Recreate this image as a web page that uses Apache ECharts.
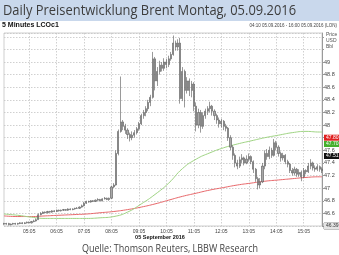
<!DOCTYPE html>
<html><head><meta charset="utf-8">
<script src="https://cdn.jsdelivr.net/npm/echarts@6/dist/echarts.min.js"></script>
<style>html,body{margin:0;padding:0;background:#fff}#c{width:339px;height:255px}</style>
</head><body><div id="c"></div>
<script>
// 5-minute categories 04:10 .. 15:45
const times = [];
for (let m = 4 * 60 + 10; m <= 15 * 60 + 45; m += 5) {
  times.push(String(Math.floor(m / 60)).padStart(2, '0') + ':' + String(m % 60).padStart(2, '0'));
}
const opens = [46.44,46.43,46.44,46.42,46.43,46.44,46.43,46.44,46.45,46.44,46.45,46.46,46.45,46.47,46.48,46.50,46.58,46.60,46.62,46.61,
46.63,46.62,46.64,46.63,46.65,46.64,46.65,46.66,46.65,46.67,46.66,46.67,46.68,46.68,46.70,46.72,46.76,46.79,46.78,46.80,
46.79,46.81,46.82,46.80,46.83,46.84,46.82,46.84,47.02,47.05,47.55,47.90,48.05,47.98,47.92,47.85,47.80,47.84,47.88,47.94,
48.02,48.15,48.20,48.26,48.36,48.44,49.05,48.70,48.85,48.95,48.90,49.00,48.96,49.05,49.12,49.30,49.24,49.30,48.42,48.85,
48.55,48.70,48.55,48.65,48.30,48.00,48.20,47.98,48.15,48.22,48.26,48.30,48.22,48.15,48.08,48.02,48.06,47.98,47.95,47.80,
47.65,47.52,47.40,47.35,47.45,47.48,47.40,47.46,47.50,47.42,47.30,47.15,47.05,47.10,47.35,47.55,47.50,47.60,47.52,47.72,
47.65,47.55,47.48,47.52,47.42,47.38,47.28,47.24,47.30,47.22,47.25,47.18,47.28,47.26,47.35,47.40,47.32,47.30,47.34,47.30];
const closes = [46.43,46.44,46.42,46.43,46.44,46.43,46.44,46.45,46.44,46.45,46.46,46.45,46.47,46.48,46.50,46.58,46.60,46.62,46.61,46.63,
46.62,46.64,46.63,46.65,46.64,46.65,46.66,46.65,46.67,46.66,46.67,46.68,46.68,46.70,46.72,46.76,46.79,46.78,46.80,46.79,
46.81,46.82,46.80,46.83,46.84,46.82,46.84,47.02,47.05,47.55,47.90,48.05,47.98,47.92,47.85,47.80,47.84,47.88,47.94,48.02,
48.15,48.20,48.26,48.36,48.44,49.05,48.70,48.85,48.95,48.90,49.00,48.96,49.05,49.12,49.30,49.24,49.30,48.42,48.85,48.55,
48.70,48.55,48.65,48.30,48.00,48.20,47.98,48.15,48.22,48.26,48.30,48.22,48.15,48.08,48.02,48.06,47.98,47.95,47.80,47.65,
47.52,47.40,47.35,47.45,47.48,47.40,47.46,47.50,47.42,47.30,47.15,47.05,47.10,47.35,47.55,47.50,47.60,47.52,47.72,47.65,
47.55,47.48,47.52,47.42,47.38,47.28,47.24,47.30,47.22,47.25,47.18,47.28,47.26,47.35,47.40,47.32,47.30,47.34,47.30,47.28];
const lows = [46.42,46.42,46.41,46.41,46.42,46.42,46.42,46.43,46.43,46.43,46.44,46.44,46.44,46.46,46.47,46.50,46.57,46.59,46.60,46.60,
46.61,46.61,46.62,46.62,46.63,46.63,46.64,46.64,46.64,46.65,46.65,46.66,46.67,46.67,46.69,46.71,46.75,46.77,46.77,46.78,
46.78,46.80,46.79,46.79,46.82,46.81,46.80,46.83,47.00,47.04,47.52,47.88,47.92,47.86,47.78,47.74,47.76,47.80,47.85,47.91,
48.00,48.10,48.14,48.22,48.30,48.42,48.55,48.62,48.80,48.85,48.86,48.90,48.92,49.02,49.10,49.18,49.18,48.34,48.38,48.28,
48.50,48.46,48.44,48.22,47.90,47.95,47.88,47.94,48.10,48.16,48.20,48.15,48.08,48.02,47.96,47.96,47.92,47.90,47.75,47.60,
47.45,47.33,47.30,47.32,47.40,47.36,47.38,47.42,47.38,47.24,47.10,46.98,47.00,47.08,47.30,47.45,47.46,47.48,47.50,47.60,
47.50,47.42,47.44,47.38,47.33,47.24,47.20,47.20,47.18,47.18,47.11,47.16,47.22,47.24,47.30,47.28,47.26,47.27,47.26,47.24];
const highs = [46.45,46.45,46.45,46.44,46.45,46.45,46.45,46.46,46.46,46.46,46.47,46.47,46.48,46.50,46.52,46.60,46.62,46.63,46.63,46.64,
46.64,46.65,46.65,46.66,46.66,46.66,46.67,46.67,46.68,46.68,46.68,46.69,46.70,46.71,46.74,46.78,46.80,46.80,46.81,46.81,
46.82,46.84,46.83,46.84,46.86,46.85,46.85,47.04,47.08,47.60,47.93,48.77,48.08,48.02,47.95,47.88,47.90,47.92,47.97,48.05,
48.18,48.24,48.30,48.40,48.48,49.16,49.08,48.92,49.02,49.00,49.06,49.05,49.10,49.16,49.42,49.34,49.36,49.38,48.92,48.88,
48.76,48.74,48.70,48.68,48.36,48.26,48.24,48.20,48.26,48.30,48.37,48.32,48.25,48.18,48.12,48.10,48.08,48.02,47.97,47.84,
47.68,47.55,47.45,47.50,47.54,47.50,47.52,47.55,47.52,47.44,47.32,47.18,47.16,47.40,47.60,47.62,47.66,47.64,47.78,47.75,
47.68,47.58,47.56,47.54,47.45,47.40,47.32,47.34,47.32,47.30,47.28,47.32,47.30,47.40,47.46,47.42,47.36,47.38,47.36,47.33];
// moving averages, read at every 6th bar
const maIndex = [0,6,12,18,24,30,36,42,48,54,60,66,72,78,84,90,96,102,108,114,120,126,132,138,139];
const maGreen = [46.59,46.57,46.54,46.52,46.52,46.52,46.52,46.53,46.55,46.62,46.75,46.90,47.08,47.31,47.46,47.56,47.64,47.70,47.75,47.80,47.84,47.88,47.90,47.89,47.89];
const maRed   = [46.56,46.55,46.55,46.56,46.57,46.58,46.59,46.61,46.63,46.66,46.70,46.75,46.81,46.87,46.92,46.97,47.01,47.05,47.08,47.11,47.13,47.15,47.17,47.18,47.18];
// price boxes on the right axis
const boxValues = [47.80, 47.70, 47.51, 46.40];
const boxColors = ['#e02020', '#44b02c', '#111111', '#e4e4e4'];
const boxText = ['#fff', '#fff', '#fff', '#333'];

const green = times.map(() => null), red = times.map(() => null);
maIndex.forEach((k, j) => { green[k] = maGreen[j]; red[k] = maRed[j]; });
const candles = opens.map((o, i) => [o, closes[i], lows[i], highs[i]]);

const ctx = document.createElement('canvas').getContext('2d');
function tw(font, s) { ctx.font = font; return ctx.measureText(s).width; }
const titleStr = 'Daily Preisentwicklung Brent Montag, 05.09.2016';
const titleFont = '15px "Open Sans"';
const titleScale = 293 / tw(titleFont, titleStr);
const srcStr = 'Quelle: Thomson Reuters, LBBW Research';
const srcFont = '10px "Open Sans"';
const srcScale = 176 / tw(srcFont, srcStr);

const hourTick = (i, v) => /:05$/.test(v);
const chart = echarts.init(document.getElementById('c'), null, { renderer: 'canvas' });
chart.setOption({
  animation: false,
  backgroundColor: '#fff',
  grid: { left: 4, right: 17, top: 33, bottom: 29, show: true, borderColor: '#cfcfcf', borderWidth: 1 },
  xAxis: {
    type: 'category', data: times, boundaryGap: false,
    axisLine: { show: false }, axisTick: { show: false },
    axisLabel: { interval: hourTick, fontSize: 5, color: '#444', margin: 3, fontFamily: 'Liberation Sans' },
    splitLine: { show: true, interval: hourTick, lineStyle: { color: '#c4c4c4', type: [1.5, 1.5], width: 0.8 } }
  },
  yAxis: {
    type: 'value', position: 'right', min: 46.4, max: 49.46, interval: 0.2, scale: true,
    axisLine: { show: true, lineStyle: { color: '#9a9a9a', width: 1 } },
    axisTick: { show: true, length: 2, lineStyle: { color: '#9a9a9a' } },
    axisLabel: { fontSize: 5.5, color: '#444', margin: 2, fontFamily: 'Liberation Sans', showMaxLabel: false,
      formatter: v => (v > 49.01 || v < 46.5) ? '' : String(+v.toFixed(1)) },
    splitLine: { show: true, lineStyle: { color: '#c4c4c4', type: [1.5, 1.5], width: 0.8 } }
  },
  series: [
    { type: 'line', data: red, connectNulls: true, smooth: true, symbol: 'none', z: 3,
      lineStyle: { color: '#e8676a', width: 1 } },
    { type: 'line', data: green, connectNulls: true, smooth: true, symbol: 'none', z: 3,
      lineStyle: { color: '#9fd483', width: 1 } },
    { type: 'candlestick', data: candles, barWidth: 1.6, z: 4,
      itemStyle: { color: '#a8a8a8', color0: '#a8a8a8', borderColor: '#555', borderColor0: '#555', borderWidth: 0.6 },
      markLine: {
        silent: true, symbol: 'none', animation: false,
        lineStyle: { color: 'rgba(0,0,0,0)', width: 0, type: 'solid' },
        data: boxValues.map((v, k) => ({ yAxis: v, lineStyle: { color: 'rgba(0,0,0,0)', width: 0 }, label: {
          show: true, position: 'end', distance: 2, formatter: (k === 3 ? 46.39 : v).toFixed(2), fontSize: 5, color: boxText[k],
          backgroundColor: boxColors[k], padding: [1, 2, 0, 2], fontFamily: 'Liberation Sans', opacity: 1,
          borderColor: k === 3 ? '#888' : 'transparent', borderWidth: k === 3 ? 0.5 : 0 } }))
      } }
  ],
  graphic: [
    { type: 'rect', shape: { x: 0, y: 0, width: 339, height: 21 }, style: { fill: '#c9d8ec' }, z: 0 },
    { type: 'text', x: 3, y: 11, scaleX: titleScale, originX: 0, originY: 0,
      style: { text: titleStr, font: titleFont, fill: '#3d3d3d', verticalAlign: 'middle', textAlign: 'left' } },
    { type: 'text', x: 2, y: 25.5, style: { text: '5 Minutes LCOc1', font: 'bold 7px "Liberation Sans"', fill: '#111', verticalAlign: 'middle' } },
    { type: 'text', x: 337, y: 26, style: { text: '04:10 05.09.2016 - 16:00 05.09.2016 (LON)', font: '4.5px "Liberation Sans"', fill: '#444', textAlign: 'right', verticalAlign: 'middle' } },
    { type: 'text', x: 326, y: 35, style: { text: 'Price', font: '5px "Liberation Sans"', fill: '#555', verticalAlign: 'middle' } },
    { type: 'text', x: 326, y: 41, style: { text: 'USD', font: '5px "Liberation Sans"', fill: '#555', verticalAlign: 'middle' } },
    { type: 'text', x: 326, y: 47, style: { text: 'Bbl', font: '5px "Liberation Sans"', fill: '#555', verticalAlign: 'middle' } },
    { type: 'text', x: 160, y: 237.5, style: { text: '05 September 2016', font: 'bold 5.5px "Liberation Sans"', fill: '#111', textAlign: 'center', verticalAlign: 'middle' } },
    { type: 'text', x: 170, y: 249, scaleX: srcScale, originX: 0, originY: 0,
      style: { text: srcStr, font: srcFont, fill: '#444', textAlign: 'center', verticalAlign: 'middle' } }
  ]
});
</script>
</body></html>
